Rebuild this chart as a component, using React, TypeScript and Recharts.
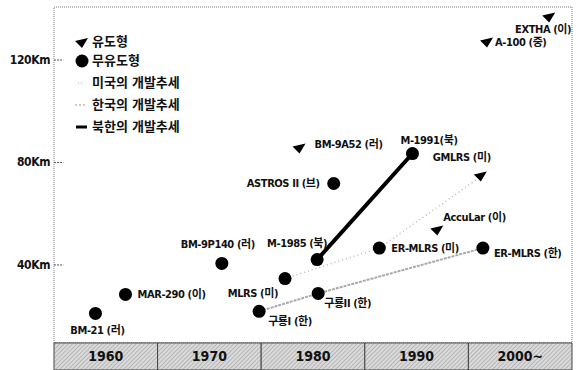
import { ComposedChart, Line, Scatter, XAxis, YAxis, ReferenceArea, ReferenceLine } from 'recharts';

const FONT = "'DejaVu Sans Condensed', 'Noto Sans CJK KR', sans-serif";

type Pt = { name: string; year: number; km: number };

// 무유도형 (unguided rockets)
const unguided: Pt[] = [
  { name: 'BM-21 (러)', year: 1964, km: 21.1 },
  { name: 'MAR-290 (이)', year: 1966.9, km: 28.5 },
  { name: 'BM-9P140 (러)', year: 1976.2, km: 40.6 },
  { name: '구룡I (한)', year: 1979.8, km: 21.9 },
  { name: 'MLRS (미)', year: 1982.3, km: 34.7 },
  { name: 'M-1985 (북)', year: 1985.4, km: 42.1 },
  { name: '구룡II (한)', year: 1985.5, km: 28.9 },
  { name: 'ASTROS II (브)', year: 1987, km: 71.8 },
  { name: 'ER-MLRS (미)', year: 1991.4, km: 46.6 },
  { name: 'M-1991(북)', year: 1994.6, km: 83.5 },
  { name: 'ER-MLRS (한)', year: 2001.4, km: 46.6 },
];

// 유도형 (guided rockets)
const guided: Pt[] = [
  { name: 'BM-9A52 (러)', year: 1983.7, km: 85.5 },
  { name: 'AccuLar (이)', year: 1997, km: 53.5 },
  { name: 'GMLRS (미)', year: 2001.2, km: 74.5 },
  { name: 'A-100 (중)', year: 2001.8, km: 126.8 },
  { name: 'EXTHA (이)', year: 2007.8, km: 136.6 },
];

const usTrend = ['MLRS (미)', 'ER-MLRS (미)', 'GMLRS (미)'];
const krTrend = ['구룡I (한)', '구룡II (한)', 'ER-MLRS (한)'];
const nkTrend = ['M-1985 (북)', 'M-1991(북)'];

const decades = [1960, 1970, 1980, 1990, 2000];
const decadeLabels = ['1960', '1970', '1980', '1990', '2000~'];
const yTicks = [40, 80, 120];

const Y_MIN = -1;
const Y_MAX = 140.7;
const BAND_TOP = 9.56;

// label placement relative to the mark: [anchor, dx, dy]
const labelAt: Record<string, [string, number, number]> = {
  'BM-21 (러)': ['middle', 2, 17],
  'MAR-290 (이)': ['start', 12, 0],
  'BM-9P140 (러)': ['middle', -4, -19],
  '구룡I (한)': ['start', 9, 10],
  'MLRS (미)': ['end', -7, 15],
  'M-1985 (북)': ['middle', -20, -16],
  '구룡II (한)': ['start', 6, 10],
  'ASTROS II (브)': ['end', -14, 0],
  'ER-MLRS (미)': ['start', 12, 0],
  'M-1991(북)': ['start', -12, -13],
  'ER-MLRS (한)': ['start', 11, 5],
  'BM-9A52 (러)': ['start', 15, -4],
  'AccuLar (이)': ['start', 6, -13],
  'GMLRS (미)': ['middle', -19, -19],
  'A-100 (중)': ['start', 8, 0],
  'EXTHA (이)': ['end', 22, 12],
};

const all = [...unguided, ...guided];
const pick = (names: string[]) => names.map((n) => all.find((p) => p.name === n)!);

function PointLabel({ x, y, name }: { x: number; y: number; name: string }) {
  const [anchor, dx, dy] = labelAt[name] ?? ['start', 10, 0];
  return (
    <text
      x={x + dx}
      y={y + dy}
      textAnchor={anchor as any}
      dominantBaseline="central"
      fontFamily={FONT}
      fontWeight={700}
      fontSize={11}
      letterSpacing={-0.4}
      fill="#111"
    >
      {name}
    </text>
  );
}

const CircleMark = (p: any) => (
  <g>
    <circle cx={p.cx} cy={p.cy} r={6.5} fill="#000" />
    <PointLabel x={p.cx} y={p.cy} name={p.payload.name} />
  </g>
);

const triPath = (cx: number, cy: number) =>
  `M${cx - 7},${cy - 2} L${cx + 6},${cy - 5} L${cx},${cy + 5} Z`;

const TriMark = (p: any) => (
  <g>
    <path d={triPath(p.cx, p.cy)} fill="#000" />
    <PointLabel x={p.cx} y={p.cy} name={p.payload.name} />
  </g>
);

const YTick = (p: any) => (
  <text
    x={p.x}
    y={p.y}
    textAnchor="end"
    dominantBaseline="central"
    fontFamily={FONT}
    fontWeight={700}
    fontSize={12}
    letterSpacing={-0.4}
    fill="#111"
  >
    {p.payload.value}Km
  </text>
);

const legendRows = [
  { label: '유도형', icon: 'tri', top: 34 },
  { label: '무유도형', icon: 'dot', top: 53 },
  { label: '미국의 개발추세', icon: 'us', top: 75 },
  { label: '한국의 개발추세', icon: 'kr', top: 97 },
  { label: '북한의 개발추세', icon: 'nk', top: 119 },
];

function LegendIcon({ icon }: { icon: string }) {
  return (
    <svg width={16} height={14} style={{ display: 'block' }}>
      {icon === 'tri' && <path d={triPath(8, 8)} fill="#000" />}
      {icon === 'dot' && <circle cx={8} cy={7} r={6.5} fill="#000" />}
      {icon === 'us' && <line x1={4} y1={7} x2={8} y2={7} stroke="#ccc" strokeWidth={1.5} strokeDasharray="1 2" />}
      {icon === 'kr' && <line x1={1} y1={7} x2={12} y2={7} stroke="#bbb" strokeWidth={1.5} strokeDasharray="2 2" />}
      {icon === 'nk' && <line x1={2} y1={7} x2={13} y2={7} stroke="#000" strokeWidth={3} />}
    </svg>
  );
}

export default function App() {
  return (
    <div style={{ position: 'absolute', left: 0, top: 0, width: 586, height: 370, background: '#fff' }}>
      <ComposedChart width={586} height={370} margin={{ top: 7, right: 14, bottom: 0, left: 0 }}>
        <defs>
          <pattern id="hatch" width={3} height={3} patternUnits="userSpaceOnUse" patternTransform="rotate(45)">
            <rect width={3} height={3} fill="#dadada" />
            <line x1={0} y1={0} x2={0} y2={3} stroke="#999" strokeWidth={1.1} />
          </pattern>
        </defs>
        <XAxis type="number" dataKey="year" domain={[1960, 2010]} hide />
        <YAxis
          type="number"
          dataKey="km"
          domain={[Y_MIN, Y_MAX]}
          allowDataOverflow
          ticks={yTicks}
          width={54}
          axisLine={false}
          tickLine={false}
          tickSize={0}
          tickMargin={4}
          tick={<YTick />}
        />
        <ReferenceArea
          x1={1960}
          x2={2010}
          y1={BAND_TOP}
          y2={Y_MAX}
          fill="none"
          stroke="#777"
          strokeDasharray="1 1"
        />
        {yTicks.map((v) => (
          <ReferenceLine
            key={v}
            segment={[
              { x: 1960, y: v },
              { x: 1960.9, y: v },
            ]}
            stroke="#555"
            strokeDasharray="2 1"
          />
        ))}
        {decades.map((d, i) => (
          <ReferenceArea
            key={d}
            x1={d}
            x2={d + 10}
            y1={Y_MIN}
            y2={BAND_TOP}
            fill="url(#hatch)"
            fillOpacity={1}
            stroke="#444"
            strokeWidth={1}
            label={{
              value: decadeLabels[i],
              position: 'center',
              fill: '#111',
              fontSize: 14,
              fontWeight: 700,
              fontFamily: FONT,
            }}
          />
        ))}
        <Line
          data={pick(usTrend)}
          dataKey="km"
          stroke="#bbb"
          strokeWidth={1.5}
          strokeDasharray="1 3"
          dot={false}
          isAnimationActive={false}
        />
        <Line
          data={pick(krTrend)}
          dataKey="km"
          stroke="#aaa"
          strokeWidth={2}
          strokeDasharray="3 1"
          dot={false}
          isAnimationActive={false}
        />
        <Line
          data={pick(nkTrend)}
          dataKey="km"
          stroke="#000"
          strokeWidth={4}
          dot={false}
          isAnimationActive={false}
        />
        <Scatter data={unguided} dataKey="km" shape={CircleMark} isAnimationActive={false} />
        <Scatter data={guided} dataKey="km" shape={TriMark} isAnimationActive={false} />
      </ComposedChart>
      {legendRows.map((r) => (
        <div
          key={r.label}
          style={{
            position: 'absolute',
            left: 74,
            top: r.top,
            display: 'flex',
            alignItems: 'center',
            gap: 2,
            fontFamily: FONT,
            fontWeight: 700,
            fontSize: 13,
            lineHeight: '16px',
            color: '#111',
          }}
        >
          <LegendIcon icon={r.icon} />
          <span>{r.label}</span>
        </div>
      ))}
    </div>
  );
}
